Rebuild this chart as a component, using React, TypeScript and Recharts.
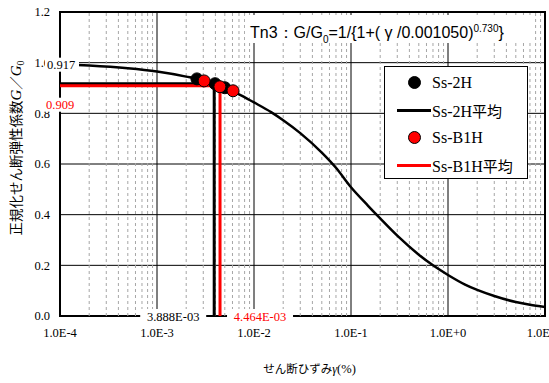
import {
  CartesianGrid,
  ComposedChart,
  Label,
  LabelList,
  Line,
  ReferenceArea,
  ReferenceLine,
  Scatter,
  XAxis,
  YAxis,
} from "recharts";

// G/G0 curve (strain in %)
const curveStrain = [
  1e-4, 2e-4, 5e-4, 1e-3, 2e-3, 3e-3, 5e-3, 7e-3, 1e-2, 1.5e-2, 2e-2, 3e-2, 5e-2, 7e-2, 0.1, 0.15, 0.2, 0.3, 0.5,
  0.7, 1, 1.5, 2, 3, 5, 7, 10,
];
const curveRatio = [
  0.994, 0.989, 0.978, 0.965, 0.945, 0.93, 0.898, 0.875, 0.843, 0.805, 0.773, 0.722, 0.645, 0.585, 0.508, 0.435,
  0.385, 0.317, 0.242, 0.2, 0.162, 0.124, 0.103, 0.079, 0.055, 0.044, 0.035,
];

const ss2hStrain = [2.58e-3, 3.97e-3, 5.0e-3];
const ss2hRatio = [0.936, 0.917, 0.901];
const ssb1hStrain = [3.06e-3, 4.45e-3, 6.08e-3];
const ssb1hRatio = [0.928, 0.905, 0.889];

const ss2hMeanStrain = 3.888e-3;
const ss2hMeanRatio = 0.917;
const ssb1hMeanStrain = 4.464e-3;
const ssb1hMeanRatio = 0.909;

const xTicks = [1e-4, 1e-3, 1e-2, 1e-1, 1, 10];
const xTickLabels = ["1.0E-4", "1.0E-3", "1.0E-2", "1.0E-1", "1.0E+0", "1.0E+1"];
const yTicks = [0, 0.2, 0.4, 0.6, 0.8, 1.0, 1.2];
const minorSteps = [2, 3, 4, 5, 6, 7, 8, 9];

const serif = "'Liberation Serif', 'Times New Roman', serif";
const cjk = "'Noto Sans CJK JP', sans-serif";

const fmtExp = (v: number) => {
  const [m, e] = v.toExponential(3).split("e");
  const n = Number(e);
  return `${m}E${n < 0 ? "-" : "+"}${String(Math.abs(n)).padStart(2, "0")}`;
};

const curve = curveStrain.map((x, i) => ({ x, y: curveRatio[i] }));
const ss2h = ss2hStrain.map((x, i) => ({ x, y: ss2hRatio[i] }));
const ssb1h = ssb1hStrain.map((x, i) => ({ x, y: ssb1hRatio[i] }));

const meanPath = (strain: number, ratio: number) => [
  { x: xTicks[0], y: ratio, label: ratio.toFixed(3) },
  { x: strain, y: ratio, label: "" },
  { x: strain, y: 0, label: fmtExp(strain) },
];
const ss2hMean = meanPath(ss2hMeanStrain, ss2hMeanRatio);
const ssb1hMean = meanPath(ssb1hMeanStrain, ssb1hMeanRatio);

const minorLines = xTicks.slice(0, -1).flatMap((d) => minorSteps.map((m) => m * d));

function meanLabel(color: string, valueDy: number, valueDx: number, strainDx: number) {
  return (props: any) => {
    const { x, y, value, index } = props;
    if (!value) return null;
    if (index === 0) {
      const tx = x + valueDx;
      const ty = y + valueDy;
      return (
        <g>
          <rect x={tx - 2} y={ty - 7} width={34} height={14} fill="#fff" />
          <text x={tx} y={ty} dy="0.35em" fill={color} fontSize={12.5} fontFamily={serif}>
            {value}
          </text>
        </g>
      );
    }
    const cx = x + strainDx;
    return (
      <g>
        <rect x={cx - 33} y={y - 7} width={66} height={14} fill="#fff" />
        <text x={cx} y={y + 1} dy="0.35em" textAnchor="middle" fill={color} fontSize={12.5} fontFamily={serif}>
          {value}
        </text>
      </g>
    );
  };
}

const dot = (fill: string) => (props: any) =>
  <circle cx={props.cx} cy={props.cy} r={6} fill={fill} stroke="#000" strokeWidth={1} />;

function LegendBox() {
  const row = (marker: "dot" | "line", color: string, text: string) => (
    <div style={{ display: "flex", alignItems: "center", height: 27.5 }}>
      <div style={{ width: 46, display: "flex", justifyContent: "center" }}>
        {marker === "dot" ? (
          <div
            style={{
              width: 11,
              height: 11,
              borderRadius: "50%",
              background: color,
              border: "1px solid #000",
              marginLeft: 12,
            }}
          />
        ) : (
          <div style={{ width: 34, height: 3, background: color, marginLeft: 12 }} />
        )}
      </div>
      <span style={{ fontFamily: serif, fontSize: 16, marginLeft: 1 }}>
        {text.replace("平均", "")}
        {text.endsWith("平均") && <span style={{ fontFamily: cjk, fontSize: 15 }}>平均</span>}
      </span>
    </div>
  );
  return (
    <div
      style={{
        position: "absolute",
        left: 384,
        top: 66,
        width: 142,
        height: 109,
        border: "1px solid #000",
        background: "#fff",
        paddingTop: 2,
        boxSizing: "content-box",
        color: "#000",
      }}
    >
      {row("dot", "#000", "Ss-2H")}
      {row("line", "#000", "Ss-2H平均")}
      {row("dot", "#f00", "Ss-B1H")}
      {row("line", "#f00", "Ss-B1H平均")}
    </div>
  );
}

export default function App() {
  return (
    <div
      style={{
        position: "absolute",
        left: 0,
        top: 0,
        width: 549,
        height: 383,
        background: "#fff",
        fontFamily: serif,
        overflow: "hidden",
      }}
    >
      <ComposedChart width={549} height={383} margin={{ top: 12, right: 4, bottom: 37, left: 0 }}>
        <CartesianGrid stroke="#000" strokeWidth={1} />
        {minorLines.map((v) => (
          <ReferenceLine key={v} x={v} stroke="#a6a6a6" strokeDasharray="3 3" strokeWidth={1} />
        ))}
        <XAxis
          dataKey="x"
          type="number"
          scale="log"
          domain={[1e-4, 10]}
          ticks={xTicks}
          interval={0}
          allowDataOverflow
          tickFormatter={(_v: number, i: number) => xTickLabels[i]}
          axisLine={false}
          tickLine={false}
          tickMargin={6}
          height={30}
          tick={{ fontSize: 12.5, fill: "#000", fontFamily: serif }}
        >
          <Label
            content={(p: any) => {
              const vb = p.viewBox;
              return (
                <text x={vb.x + vb.width / 2 + 7} y={vb.y + 57} textAnchor="middle" fontSize={11.5} fontFamily={cjk} fill="#000">
                  せん断ひずみ
                  <tspan fontStyle="italic" fontFamily={serif} fontSize={12.5}>γ</tspan>
                  <tspan fontFamily={serif} fontSize={12.5}>(%)</tspan>
                </text>
              );
            }}
          />
        </XAxis>
        <YAxis
          dataKey="y"
          type="number"
          domain={[0, 1.2]}
          ticks={yTicks}
          interval={0}
          tickFormatter={(v: number) => v.toFixed(1)}
          axisLine={false}
          tickLine={false}
          tickMargin={4}
          width={60}
          tick={{ fontSize: 12.5, fill: "#000", fontFamily: serif }}
        >
          <Label
            content={(p: any) => {
              const vb = p.viewBox;
              const cy = vb.y + vb.height / 2 - 16;
              return (
                <text
                  x={21}
                  y={cy}
                  transform={`rotate(-90 21 ${cy})`}
                  textAnchor="middle"
                  fontSize={13.5}
                  fontFamily={cjk}
                  fill="#000"
                >
                  正規化せん断弾性係数
                  <tspan fontStyle="italic" fontFamily={serif} fontSize={15}>G</tspan>
                  ／
                  <tspan fontStyle="italic" fontFamily={serif} fontSize={15}>G</tspan>
                  <tspan fontFamily={serif} fontSize={10} dy={3}>0</tspan>
                </text>
              );
            }}
          />
        </YAxis>
        <ReferenceArea x1={1e-4} x2={10} y1={0} y2={1.2} fill="none" stroke="#000" strokeWidth={2} />
        <Line
          data={curve}
          dataKey="y"
          type="monotone"
          stroke="#000"
          strokeWidth={2.5}
          dot={false}
          isAnimationActive={false}
        />
        <Line
          data={ss2hMean}
          dataKey="y"
          type="linear"
          stroke="#000"
          strokeWidth={3}
          dot={false}
          isAnimationActive={false}
        >
          <LabelList dataKey="label" content={meanLabel("#000", -19, -13, -41)} />
        </Line>
        <Line
          data={ssb1hMean}
          dataKey="y"
          type="linear"
          stroke="#f00"
          strokeWidth={3}
          dot={false}
          isAnimationActive={false}
        >
          <LabelList dataKey="label" content={meanLabel("#f00", 19, -14, 40)} />
        </Line>
        <Scatter data={ss2h} dataKey="y" shape={dot("#000")} isAnimationActive={false} />
        <Scatter data={ssb1h} dataKey="y" shape={dot("#f00")} isAnimationActive={false} />
      </ComposedChart>
      <LegendBox />
      <div
        style={{
          position: "absolute",
          left: 245,
          top: 15,
          width: 290,
          height: 28,
          background: "#fff",
          fontFamily: "'Liberation Sans', Arial, sans-serif",
          fontSize: 16,
          lineHeight: "28px",
          paddingLeft: 5,
          boxSizing: "border-box",
          whiteSpace: "nowrap",
          color: "#000",
        }}
      >
        Tn3：G/G<sub style={{ fontSize: 10 }}>0</sub>=1/{"{"}1+( γ /0.001050)
        <sup style={{ fontSize: 10 }}>0.730</sup>
        {"}"}
      </div>
    </div>
  );
}
